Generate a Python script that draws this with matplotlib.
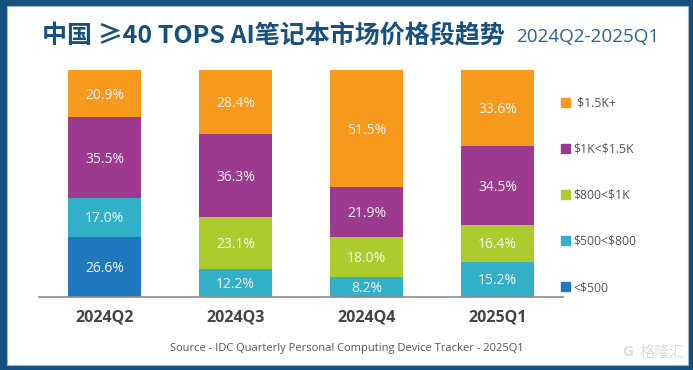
import matplotlib
matplotlib.use('Agg')
import numpy as np
import matplotlib.pyplot as plt
from matplotlib.patches import Rectangle, Patch

quarters = ['2024Q2', '2024Q3', '2024Q4', '2025Q1']
segments = [r'<\$500', r'\$500<\$800', r'\$800<\$1K', r'\$1K<\$1.5K', r' \$1.5K+']
under_500 = [26.6, 0, 0.4, 0.3]
from_500 = [17.0, 12.2, 8.2, 15.2]
from_800 = [0, 23.1, 18.0, 16.4]
from_1k = [35.5, 36.3, 21.9, 34.5]
over_1k5 = [20.9, 28.4, 51.5, 33.6]
colors = ['#1F78BE', '#32B0C7', '#ADCB2D', '#9B3A8E', '#F7991C']

W, H = 693, 370
NAVY = '#15507F'
cjk = ['Noto Sans CJK SC', 'DejaVu Sans']
plt.rcParams['font.family'] = ['Open Sans', 'Noto Sans CJK SC', 'DejaVu Sans']

fig = plt.figure(figsize=(W / 100, H / 100), dpi=100, facecolor=NAVY)
fig.add_artist(Rectangle((6.5 / W, 1 - 365 / H), 681 / W, 359 / H, transform=fig.transFigure,
                         fc='white', ec='#9DB8CC', lw=0.8, zorder=-1))

ax = fig.add_axes([39 / W, 1 - 297 / H, 524 / W, 227 / H])
ax.patch.set_alpha(0)
x = np.arange(len(quarters))
bottom = np.zeros(len(quarters))
series = [under_500, from_500, from_800, from_1k, over_1k5]
for vals, c in zip(series, colors):
    vals = np.array(vals)
    ax.bar(x, vals, 0.557, bottom=bottom, color=c, lw=0)
    for i, v in enumerate(vals):
        if v > 1:
            ax.annotate('%.1f%%' % v, (x[i], bottom[i] + v / 2), xytext=(0, -1.2), textcoords='offset points',
                        color='#F6F6F6', ha='center', va='center', fontsize=10, fontweight='medium')
    bottom += vals

ax.set_xlim(-0.5, 3.5)
ax.set_ylim(0, 100)
ax.set_yticks([])
ax.set_xticks(x)
ax.set_xticklabels(quarters, fontsize=11.5, fontweight='bold', color='#444444')
ax.tick_params(axis='x', length=0, pad=9)
for s in ['top', 'left', 'right']:
    ax.spines[s].set_visible(False)
ax.spines['bottom'].set_color('#8C8C8C')
ax.spines['bottom'].set_linewidth(1.2)

handles = [Patch(color=c, label=s) for c, s in zip(colors, segments)][::-1]
ax.legend(handles=handles, frameon=False, loc='upper left', bbox_to_anchor=(522 / 524, 0.883),
          borderaxespad=0, borderpad=0, handlelength=0.75, handleheight=0.75, handletextpad=0.28,
          labelspacing=2.71, prop={'size': 8.8}, labelcolor='#555555')

fig.text(42 / W, 1 - 36 / H, '中国 ≥40 TOPS AI笔记本市场价格段趋势', fontsize=18, fontweight='bold',
         color=NAVY, family=cjk, va='center')
fig.text(516 / W, 1 - 37 / H, '2024Q2-2025Q1', fontsize=13.6, color='#2D6491', va='center')
fig.text(347 / W, 1 - 348 / H, 'Source - IDC Quarterly Personal Computing Device Tracker - 2025Q1',
         fontsize=8, color='#555555', ha='center', va='center')
fig.text(628 / W, 1 - 352 / H, 'G', fontsize=11, color='#DDDDDD', fontweight='bold', ha='center', va='center')
fig.text(685 / W, 1 - 352 / H, '格隆汇', fontsize=11, color='#DDDDDD', family=cjk, ha='right', va='center')

fig.savefig('out.png', dpi=100, facecolor=NAVY)
